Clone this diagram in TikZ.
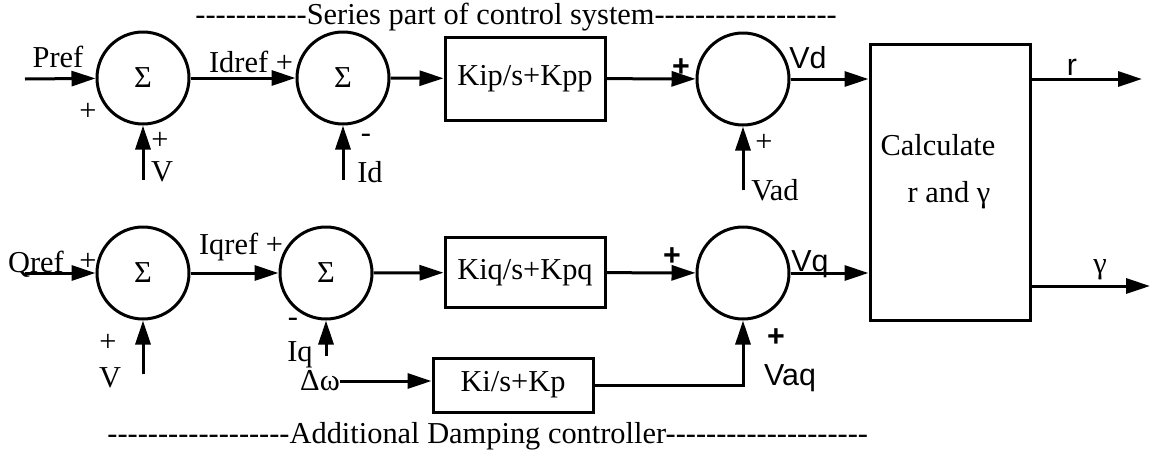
\documentclass[tikz,border=0pt]{standalone}
\usepackage{fontspec}
\setmainfont{Liberation Serif}[Ligatures=TeXOff]
\newfontfamily\arialfont{Liberation Sans}
\usetikzlibrary{arrows.meta,positioning}

\begin{document}
\begin{tikzpicture}[x=0.5pt, y=-0.5pt, font=\fontsize{15.2}{18}\selectfont,
    sumnode/.style={draw, circle, line width=1.5pt, minimum size=46pt, inner sep=0pt},
    block/.style={draw, line width=1.5pt, minimum width=80pt, inner sep=0pt},
    sig/.style={-{Triangle[length=12pt,width=7.5pt]}, line width=1.5pt},
    lbl/.style={inner sep=0pt},
    sans/.style={inner sep=0pt, font=\fontsize{15.2}{18}\selectfont\arialfont}]
\useasboundingbox (0,0) rectangle (1156,461);

% d-axis part
\node[sumnode] (s1) at (143,78) {Σ};
\node[sumnode] (s2) at (343,78) {Σ};
\node[block, minimum height=41.5pt] (kp) at (525,78.5) {Kip/s+Kpp};
\node[sumnode] (s3) at (743,79) {};
\node[block, minimum height=138pt] (calc) at (950,182) {};
\node[lbl] (calc1) at (938,145) {Calculate};
\node[lbl] (calc2) at (949,195) {r and γ};

\coordinate (pin) at (25,79);
\coordinate (v1) at (143,180);
\coordinate (idin) at (343,180);
\coordinate (vadin) at (743,190);
\coordinate (rout) at (1142,79);

\draw[sig] (pin) -- (s1);
\draw[sig] (v1) -- (s1.south);
\draw[sig] (s1) -- (s2);
\draw[sig] (idin) -- (s2.south);
\draw[sig] (s2) -- (kp);
\draw[sig] (kp) -- (s3);
\draw[sig] (vadin) -- (s3.south);
\draw[sig] (s3.east) -- (s3.east -| calc.west);
\draw[sig] (calc.east |- rout) -- (rout);

% q-axis part
\node[sumnode] (s4) at (143,273) {Σ};
\node[sumnode] (s5) at (326,273) {Σ};
\node[block, minimum height=35pt] (kq) at (525,272.5) {Kiq/s+Kpq};
\node[sumnode] (s6) at (743,273) {};
\node[block, minimum height=27pt] (ki) at (513,385) {Ki/s+Kp};

\coordinate (qin) at (25,273);
\coordinate (v2) at (143,374);
\coordinate (iqin) at (326,356);
\coordinate (dw) at (340,381);
\coordinate (gout) at (1150,286);

\draw[sig] (qin) -- (s4);
\draw[sig] (v2) -- (s4.south);
\draw[sig] (s4) -- (s5);
\draw[sig] (iqin) -- (s5.south);
\draw[sig] (s5) -- (kq);
\draw[sig] (kq) -- (s6);
\draw[sig] (dw) -- (ki.west |- dw);
\draw[sig] (ki.east) -| (s6.south);
\draw[sig] (s6.east) -- (s6.east -| calc.west);
\draw[sig] (calc.east |- gout) -- (gout);

% signal labels
\node[lbl] at (58,57) {Pref};
\node[lbl] at (88,112) {+};
\node[lbl] at (160,141) {+};
\node[lbl] at (162,172) {V};
\node[lbl] at (251,62) {Idref +};
\node[lbl] at (366,138) {-};
\node[lbl] at (370,172) {Id};
\node[sans] at (681,68) {\textbf{+}};
\node[sans] at (808,58) {Vd};
\node[lbl] at (764,143) {+};
\node[lbl] at (775,190) {Vad};
\node[sans] at (1072,67) {r};
\node[lbl] at (1100,270) {γ};

\node[lbl] at (36,264) {Qref};
\node[lbl] at (88,262) {+};
\node[lbl] at (241,247) {Iqref +};
\node[lbl] at (108,343) {+};
\node[lbl] at (110,378) {V};
\node[lbl] at (293,322) {-};
\node[lbl] at (300,355) {Iq};
\node[lbl] at (320,381) {Δω};
\node[sans] at (672,257) {\textbf{+}};
\node[sans] at (810,264) {Vq};
\node[sans] at (776,338) {\textbf{+}};
\node[sans] at (790,378) {Vaq};

% section titles
\node[lbl, anchor=west] (ttop) at (195,17) {-----------Series part of control system------------------};
\node[lbl, anchor=west] (tbot) at (107,436) {------------------Additional Damping controller--------------------};
\end{tikzpicture}
\end{document}
